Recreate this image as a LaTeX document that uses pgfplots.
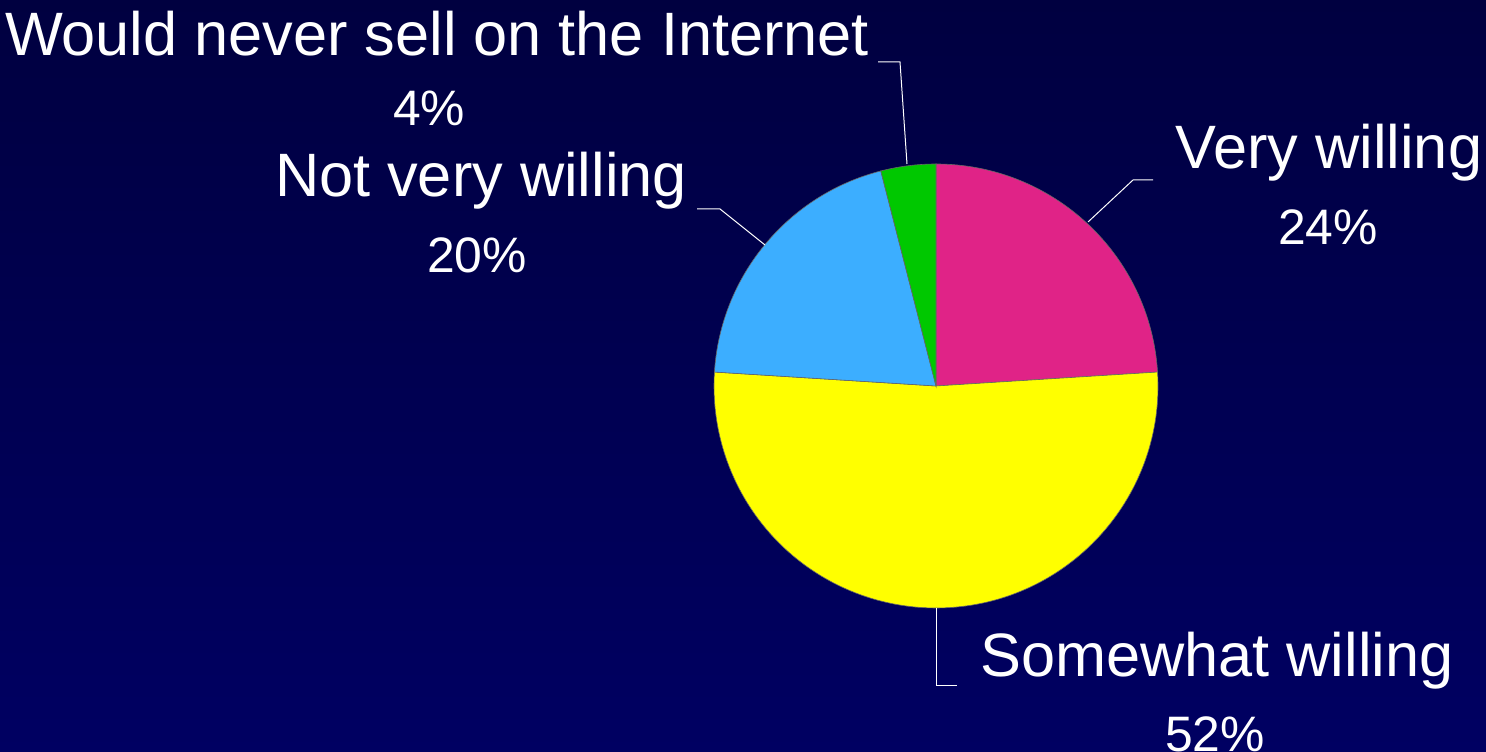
\documentclass[border=0pt]{standalone}
\usepackage{pgfplots}
\pgfplotsset{compat=1.18}
\usepackage{pgfplotstable}
\usepackage{fontspec}
\setmainfont{Liberation Sans}
\definecolor{bgtop}{RGB}{0,0,64}
\definecolor{bgbot}{RGB}{0,0,98}
\definecolor{cvery}{RGB}{224,35,135}
\definecolor{csome}{RGB}{255,255,0}
\definecolor{cnot}{RGB}{60,174,255}
\definecolor{cnever}{RGB}{0,200,0}
% share of answers, percent (clockwise from 12 o'clock)
\pgfplotstableread{
slice value
very 24
some 52
not 20
never 4
}\piedata
\begin{document}
\begin{tikzpicture}
\begin{axis}[
  scale only axis, width=1486bp, height=752bp,
  xmin=0, xmax=1486, ymin=0, ymax=752,
  hide axis, clip=false,
]
\fill[top color=bgtop, bottom color=bgbot] (axis cs:0,0) rectangle (axis cs:1486,752);
% wedges from the table values
\pgfplotstablegetelem{0}{value}\of\piedata \edef\va{\pgfplotsretval}
\pgfplotstablegetelem{1}{value}\of\piedata \edef\vb{\pgfplotsretval}
\pgfplotstablegetelem{2}{value}\of\piedata \edef\vc{\pgfplotsretval}
\pgfplotstablegetelem{3}{value}\of\piedata \edef\vd{\pgfplotsretval}
\pgfmathsetmacro{\aA}{90}
\pgfmathsetmacro{\aB}{90-3.6*\va}
\pgfmathsetmacro{\aC}{\aB-3.6*\vb}
\pgfmathsetmacro{\aD}{\aC-3.6*\vc}
\pgfmathsetmacro{\aE}{\aD-3.6*\vd}
\edef\pie{%
\noexpand\filldraw[fill=cvery, draw=black!60, line width=0.6pt] (axis cs:936,366) -- ++(\aA:222bp) arc[start angle=\aA, end angle=\aB, radius=222bp] -- cycle;
\noexpand\filldraw[fill=csome, draw=black!60, line width=0.6pt] (axis cs:936,366) -- ++(\aB:222bp) arc[start angle=\aB, end angle=\aC, radius=222bp] -- cycle;
\noexpand\filldraw[fill=cnot, draw=black!60, line width=0.6pt] (axis cs:936,366) -- ++(\aC:222bp) arc[start angle=\aC, end angle=\aD, radius=222bp] -- cycle;
\noexpand\filldraw[fill=cnever, draw=black!60, line width=0.6pt] (axis cs:936,366) -- ++(\aD:222bp) arc[start angle=\aD, end angle=\aE, radius=222bp] -- cycle;
}
\pie
% leader lines
\draw[white, line width=1pt] (axis cs:1088,530) -- (axis cs:1133,572) -- (axis cs:1153,572);
\draw[white, line width=1pt] (axis cs:936,144) -- (axis cs:936,66) -- (axis cs:957,66);
\draw[white, line width=1pt] (axis cs:765,507) -- (axis cs:720,543) -- (axis cs:697,543);
\draw[white, line width=1pt] (axis cs:907,588) -- (axis cs:900,690) -- (axis cs:878,690);
% labels
\node[white, font=\fontsize{61.5}{72}\selectfont, inner sep=0pt] at (axis cs:1329,599) {Very willing};
\node[white, font=\fontsize{50}{60}\selectfont, inner sep=0pt] at (axis cs:1328,525) {24\%};
\node[white, font=\fontsize{61.5}{72}\selectfont, inner sep=0pt] at (axis cs:1217,91) {Somewhat willing};
\node[white, font=\fontsize{50}{60}\selectfont, inner sep=0pt] at (axis cs:1215,18) {52\%};
\node[white, font=\fontsize{61.5}{72}\selectfont, inner sep=0pt] at (axis cs:481,571) {Not very willing};
\node[white, font=\fontsize{50}{60}\selectfont, inner sep=0pt] at (axis cs:477,497) {20\%};
\node[white, font=\fontsize{61.5}{72}\selectfont, inner sep=0pt] at (axis cs:437,718) {Would never sell on the Internet};
\node[white, font=\fontsize{50}{60}\selectfont, inner sep=0pt] at (axis cs:429,644) {4\%};
\end{axis}
\end{tikzpicture}
\end{document}
